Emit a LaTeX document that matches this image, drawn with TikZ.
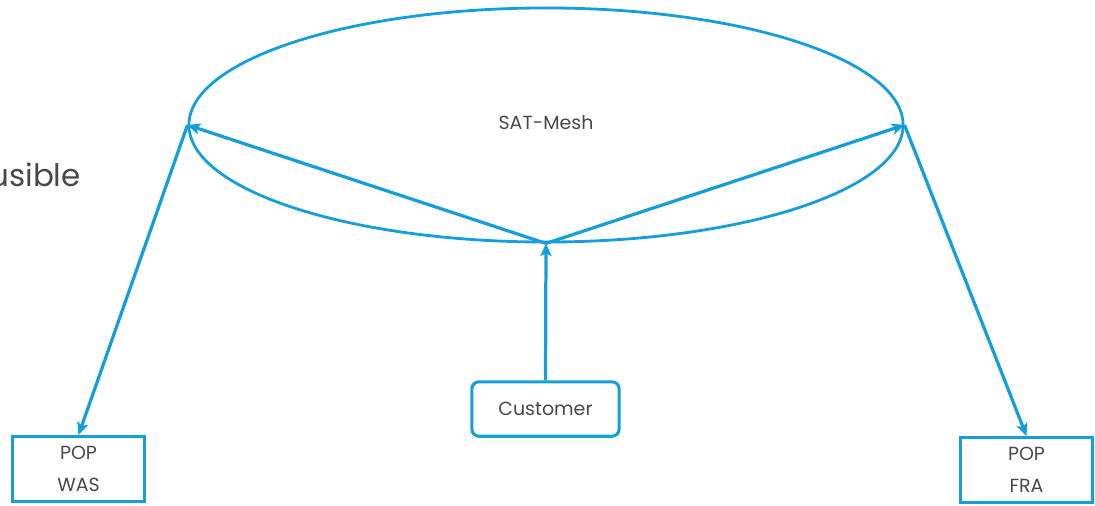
\documentclass[tikz,border=0pt]{standalone}
\usepackage{fontspec}
\setmainfont{Poppins}
\usetikzlibrary{shapes.geometric,arrows.meta}
\definecolor{meshblue}{RGB}{22,158,220}
\definecolor{txtgray}{RGB}{72,72,72}
\tikzset{
  link/.style={meshblue,line width=2.3pt,-{Stealth[length=9pt,width=8pt,inset=2pt]}},
  popbox/.style={draw=meshblue,line width=2.2pt,minimum width=3.3cm,minimum height=1.62cm,
    align=center,text=txtgray,font=\fontsize{13.5}{22.5}\selectfont,inner sep=0pt},
  custbox/.style={draw=meshblue,line width=2.2pt,rounded corners=5pt,minimum width=3.68cm,
    minimum height=1.36cm,text=txtgray,font=\fontsize{13.5}{16}\selectfont},
  meshring/.style={ellipse,draw=meshblue,line width=2pt,minimum width=17.85cm,
    minimum height=5.85cm,inner sep=0pt,text=txtgray,font=\fontsize{13.5}{16}\selectfont}
}
\begin{document}
\begin{tikzpicture}[x=0.025cm,y=-0.025cm]
      \useasboundingbox (0,0) rectangle (1095,505);
      % cloud of the mesh
      \node[meshring] (mesh) at (546,125) {};
      \node[text=txtgray,font=\fontsize{13.5}{16}\selectfont] (meshlabel) at (546,123) {SAT-Mesh};
      % end points
      \node[custbox] (cust) at (545.5,409) {Customer};
      \node[popbox] (was) at (78.5,469) {POP\\WAS};
      \node[popbox] (fra) at (1026.5,470) {POP\\FRA};
      % cut text at the left
      \node[anchor=base east,text=txtgray,font=\fontsize{22}{26}\selectfont,inner sep=0pt] (note) at (81,186) {usible};
      \draw[link] (cust.north) -- (mesh.south);
      \draw[link] (mesh.south) -- (mesh.west);
      \draw[link] (mesh.south) -- (mesh.east);
      \draw[link] (mesh.west) -- (was.north);
      \draw[link] (mesh.east) -- (fra.north);
    \end{tikzpicture}
\end{document}
